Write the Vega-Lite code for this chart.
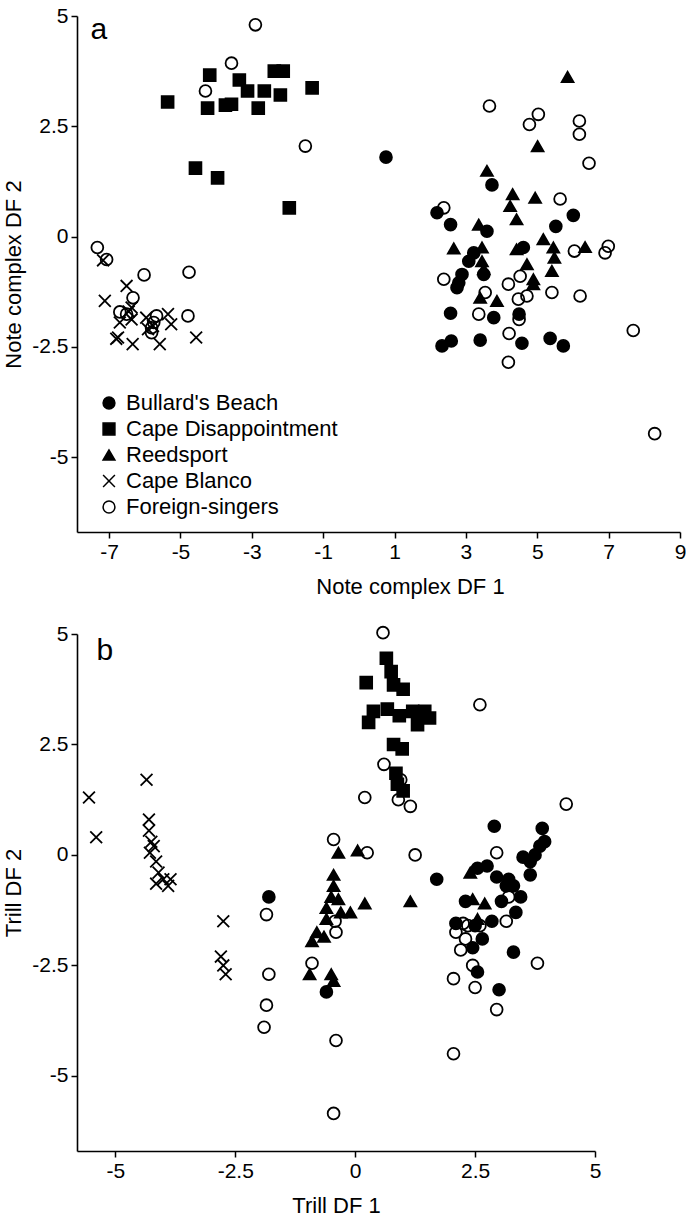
{
"$schema": "https://vega.github.io/schema/vega-lite/v6.json",
"padding": {"left": 2, "top": 5, "right": 0, "bottom": 0},
"spacing": 26,
"config": {
  "font": "Liberation Sans",
  "view": {"stroke": null},
  "axis": {"grid": false, "domainColor": "black", "domainWidth": 1.6, "tickColor": "black", "tickWidth": 1.5, "tickSize": 6, "labelFontSize": 21, "labelColor": "black", "labelFont": "Liberation Sans", "titleFontSize": 22, "titleFont": "Liberation Sans", "titleFontWeight": "normal", "titleColor": "black", "labelFlush": false, "labelPadding": 3, "labelOverlap": false}
},
"resolve": {"legend": {"shape": "independent", "fill": "independent"}},
"datasets": {
  "a": [
    {"x": 0.76, "y": 1.8, "g": "Bullard's Beach"},
    {"x": 3.73, "y": 1.17, "g": "Bullard's Beach"},
    {"x": 2.19, "y": 0.54, "g": "Bullard's Beach"},
    {"x": 2.57, "y": 0.27, "g": "Bullard's Beach"},
    {"x": 6.01, "y": 0.48, "g": "Bullard's Beach"},
    {"x": 5.52, "y": 0.23, "g": "Bullard's Beach"},
    {"x": 3.59, "y": 0.12, "g": "Bullard's Beach"},
    {"x": 3.22, "y": -0.37, "g": "Bullard's Beach"},
    {"x": 3.08, "y": -0.56, "g": "Bullard's Beach"},
    {"x": 2.89, "y": -0.86, "g": "Bullard's Beach"},
    {"x": 2.8, "y": -1.05, "g": "Bullard's Beach"},
    {"x": 3.5, "y": -0.86, "g": "Bullard's Beach"},
    {"x": 4.61, "y": -0.25, "g": "Bullard's Beach"},
    {"x": 2.75, "y": -1.16, "g": "Bullard's Beach"},
    {"x": 2.57, "y": -1.74, "g": "Bullard's Beach"},
    {"x": 3.78, "y": -1.84, "g": "Bullard's Beach"},
    {"x": 4.49, "y": -1.76, "g": "Bullard's Beach"},
    {"x": 2.33, "y": -2.48, "g": "Bullard's Beach"},
    {"x": 2.59, "y": -2.37, "g": "Bullard's Beach"},
    {"x": 3.4, "y": -2.35, "g": "Bullard's Beach"},
    {"x": 4.57, "y": -2.42, "g": "Bullard's Beach"},
    {"x": 5.36, "y": -2.31, "g": "Bullard's Beach"},
    {"x": 5.73, "y": -2.48, "g": "Bullard's Beach"},
    {"x": -5.36, "y": 3.05, "g": "Cape Disappointment"},
    {"x": -4.18, "y": 3.66, "g": "Cape Disappointment"},
    {"x": -4.24, "y": 2.91, "g": "Cape Disappointment"},
    {"x": -3.74, "y": 2.98, "g": "Cape Disappointment"},
    {"x": -3.57, "y": 3.0, "g": "Cape Disappointment"},
    {"x": -3.35, "y": 3.55, "g": "Cape Disappointment"},
    {"x": -3.12, "y": 3.3, "g": "Cape Disappointment"},
    {"x": -2.82, "y": 2.91, "g": "Cape Disappointment"},
    {"x": -2.65, "y": 3.3, "g": "Cape Disappointment"},
    {"x": -2.37, "y": 3.75, "g": "Cape Disappointment"},
    {"x": -2.12, "y": 3.75, "g": "Cape Disappointment"},
    {"x": -2.2, "y": 3.21, "g": "Cape Disappointment"},
    {"x": -1.31, "y": 3.37, "g": "Cape Disappointment"},
    {"x": -4.58, "y": 1.55, "g": "Cape Disappointment"},
    {"x": -3.96, "y": 1.33, "g": "Cape Disappointment"},
    {"x": -1.95, "y": 0.65, "g": "Cape Disappointment"},
    {"x": 5.85, "y": 3.62, "g": "Reedsport"},
    {"x": 5.01, "y": 2.05, "g": "Reedsport"},
    {"x": 3.59, "y": 1.49, "g": "Reedsport"},
    {"x": 4.31, "y": 0.96, "g": "Reedsport"},
    {"x": 4.94, "y": 0.88, "g": "Reedsport"},
    {"x": 4.24, "y": 0.69, "g": "Reedsport"},
    {"x": 4.42, "y": 0.39, "g": "Reedsport"},
    {"x": 3.36, "y": 0.27, "g": "Reedsport"},
    {"x": 2.66, "y": -0.27, "g": "Reedsport"},
    {"x": 3.45, "y": -0.25, "g": "Reedsport"},
    {"x": 3.45, "y": -0.56, "g": "Reedsport"},
    {"x": 3.5, "y": -0.74, "g": "Reedsport"},
    {"x": 4.42, "y": -0.29, "g": "Reedsport"},
    {"x": 4.71, "y": -0.63, "g": "Reedsport"},
    {"x": 5.17, "y": -0.06, "g": "Reedsport"},
    {"x": 5.45, "y": -0.25, "g": "Reedsport"},
    {"x": 5.48, "y": -0.48, "g": "Reedsport"},
    {"x": 5.41, "y": -0.78, "g": "Reedsport"},
    {"x": 6.34, "y": -0.24, "g": "Reedsport"},
    {"x": 4.89, "y": -0.97, "g": "Reedsport"},
    {"x": 3.4, "y": -1.39, "g": "Reedsport"},
    {"x": 3.87, "y": -1.46, "g": "Reedsport"},
    {"x": 4.89, "y": -1.08, "g": "Reedsport"},
    {"x": -7.17, "y": -0.54, "g": "Cape Blanco"},
    {"x": -6.51, "y": -1.12, "g": "Cape Blanco"},
    {"x": -7.12, "y": -1.46, "g": "Cape Blanco"},
    {"x": -6.37, "y": -1.61, "g": "Cape Blanco"},
    {"x": -6.7, "y": -1.95, "g": "Cape Blanco"},
    {"x": -6.37, "y": -1.88, "g": "Cape Blanco"},
    {"x": -6.75, "y": -2.29, "g": "Cape Blanco"},
    {"x": -6.8, "y": -2.32, "g": "Cape Blanco"},
    {"x": -6.34, "y": -2.44, "g": "Cape Blanco"},
    {"x": -5.91, "y": -2.1, "g": "Cape Blanco"},
    {"x": -5.77, "y": -2.03, "g": "Cape Blanco"},
    {"x": -5.58, "y": -2.44, "g": "Cape Blanco"},
    {"x": -5.35, "y": -1.76, "g": "Cape Blanco"},
    {"x": -5.26, "y": -1.99, "g": "Cape Blanco"},
    {"x": -4.56, "y": -2.29, "g": "Cape Blanco"},
    {"x": -5.96, "y": -1.84, "g": "Cape Blanco"},
    {"x": -6.45, "y": -1.7, "g": "Cape Blanco"},
    {"x": -2.9, "y": 4.8, "g": "Foreign-singers"},
    {"x": -3.57, "y": 3.93, "g": "Foreign-singers"},
    {"x": -4.3, "y": 3.3, "g": "Foreign-singers"},
    {"x": -1.5, "y": 2.05, "g": "Foreign-singers"},
    {"x": -7.33, "y": -0.25, "g": "Foreign-singers"},
    {"x": -7.07, "y": -0.52, "g": "Foreign-singers"},
    {"x": -6.02, "y": -0.87, "g": "Foreign-singers"},
    {"x": -4.76, "y": -0.81, "g": "Foreign-singers"},
    {"x": -6.33, "y": -1.39, "g": "Foreign-singers"},
    {"x": -6.7, "y": -1.71, "g": "Foreign-singers"},
    {"x": -6.51, "y": -1.76, "g": "Foreign-singers"},
    {"x": -5.67, "y": -1.8, "g": "Foreign-singers"},
    {"x": -5.75, "y": -1.95, "g": "Foreign-singers"},
    {"x": -5.81, "y": -2.18, "g": "Foreign-singers"},
    {"x": -5.81, "y": -2.07, "g": "Foreign-singers"},
    {"x": -4.79, "y": -1.8, "g": "Foreign-singers"},
    {"x": 3.66, "y": 2.96, "g": "Foreign-singers"},
    {"x": 5.03, "y": 2.77, "g": "Foreign-singers"},
    {"x": 4.78, "y": 2.54, "g": "Foreign-singers"},
    {"x": 6.18, "y": 2.62, "g": "Foreign-singers"},
    {"x": 6.18, "y": 2.32, "g": "Foreign-singers"},
    {"x": 6.45, "y": 1.66, "g": "Foreign-singers"},
    {"x": 5.64, "y": 0.85, "g": "Foreign-singers"},
    {"x": 2.38, "y": 0.65, "g": "Foreign-singers"},
    {"x": 6.04, "y": -0.33, "g": "Foreign-singers"},
    {"x": 6.9, "y": -0.37, "g": "Foreign-singers"},
    {"x": 6.99, "y": -0.22, "g": "Foreign-singers"},
    {"x": 2.38, "y": -0.97, "g": "Foreign-singers"},
    {"x": 4.19, "y": -1.08, "g": "Foreign-singers"},
    {"x": 4.52, "y": -0.9, "g": "Foreign-singers"},
    {"x": 3.54, "y": -1.27, "g": "Foreign-singers"},
    {"x": 4.47, "y": -1.42, "g": "Foreign-singers"},
    {"x": 4.71, "y": -1.35, "g": "Foreign-singers"},
    {"x": 5.41, "y": -1.27, "g": "Foreign-singers"},
    {"x": 6.2, "y": -1.35, "g": "Foreign-singers"},
    {"x": 3.36, "y": -1.76, "g": "Foreign-singers"},
    {"x": 4.49, "y": -1.88, "g": "Foreign-singers"},
    {"x": 7.69, "y": -2.13, "g": "Foreign-singers"},
    {"x": 4.21, "y": -2.2, "g": "Foreign-singers"},
    {"x": 4.19, "y": -2.85, "g": "Foreign-singers"},
    {"x": 8.29, "y": -4.47, "g": "Foreign-singers"}
  ],
  "b": [
    {"x": -1.8, "y": -0.95, "g": "Bullard's Beach"},
    {"x": -0.6, "y": -3.1, "g": "Bullard's Beach"},
    {"x": 1.7, "y": -0.55, "g": "Bullard's Beach"},
    {"x": 2.1, "y": -1.55, "g": "Bullard's Beach"},
    {"x": 2.5, "y": -1.6, "g": "Bullard's Beach"},
    {"x": 2.3, "y": -1.05, "g": "Bullard's Beach"},
    {"x": 2.55, "y": -2.65, "g": "Bullard's Beach"},
    {"x": 2.45, "y": -2.1, "g": "Bullard's Beach"},
    {"x": 2.65, "y": -1.9, "g": "Bullard's Beach"},
    {"x": 2.55, "y": -0.3, "g": "Bullard's Beach"},
    {"x": 2.75, "y": -0.25, "g": "Bullard's Beach"},
    {"x": 2.9, "y": 0.65, "g": "Bullard's Beach"},
    {"x": 2.95, "y": -0.5, "g": "Bullard's Beach"},
    {"x": 3.0, "y": -3.05, "g": "Bullard's Beach"},
    {"x": 2.85, "y": -1.5, "g": "Bullard's Beach"},
    {"x": 3.05, "y": -1.05, "g": "Bullard's Beach"},
    {"x": 3.15, "y": -0.7, "g": "Bullard's Beach"},
    {"x": 3.2, "y": -0.55, "g": "Bullard's Beach"},
    {"x": 3.3, "y": -0.7, "g": "Bullard's Beach"},
    {"x": 3.35, "y": -1.3, "g": "Bullard's Beach"},
    {"x": 3.3, "y": -2.2, "g": "Bullard's Beach"},
    {"x": 3.5, "y": -0.05, "g": "Bullard's Beach"},
    {"x": 3.65, "y": -0.15, "g": "Bullard's Beach"},
    {"x": 3.75, "y": 0.0, "g": "Bullard's Beach"},
    {"x": 3.85, "y": 0.2, "g": "Bullard's Beach"},
    {"x": 3.9, "y": 0.6, "g": "Bullard's Beach"},
    {"x": 3.95, "y": 0.3, "g": "Bullard's Beach"},
    {"x": 3.65, "y": -0.45, "g": "Bullard's Beach"},
    {"x": 3.45, "y": -0.95, "g": "Bullard's Beach"},
    {"x": 0.23, "y": 3.9, "g": "Cape Disappointment"},
    {"x": 0.65, "y": 4.45, "g": "Cape Disappointment"},
    {"x": 0.75, "y": 4.15, "g": "Cape Disappointment"},
    {"x": 0.8, "y": 3.85, "g": "Cape Disappointment"},
    {"x": 1.0, "y": 3.75, "g": "Cape Disappointment"},
    {"x": 0.38, "y": 3.25, "g": "Cape Disappointment"},
    {"x": 0.67, "y": 3.3, "g": "Cape Disappointment"},
    {"x": 0.92, "y": 3.15, "g": "Cape Disappointment"},
    {"x": 1.2, "y": 3.25, "g": "Cape Disappointment"},
    {"x": 1.45, "y": 3.25, "g": "Cape Disappointment"},
    {"x": 1.3, "y": 2.95, "g": "Cape Disappointment"},
    {"x": 1.55, "y": 3.1, "g": "Cape Disappointment"},
    {"x": 0.8, "y": 2.5, "g": "Cape Disappointment"},
    {"x": 0.98, "y": 2.4, "g": "Cape Disappointment"},
    {"x": 0.85, "y": 1.85, "g": "Cape Disappointment"},
    {"x": 0.88, "y": 1.6, "g": "Cape Disappointment"},
    {"x": 1.0, "y": 1.45, "g": "Cape Disappointment"},
    {"x": 0.28, "y": 3.0, "g": "Cape Disappointment"},
    {"x": -0.35, "y": 0.05, "g": "Reedsport"},
    {"x": -0.45, "y": -0.45, "g": "Reedsport"},
    {"x": -0.45, "y": -0.7, "g": "Reedsport"},
    {"x": -0.5, "y": -0.95, "g": "Reedsport"},
    {"x": -0.35, "y": -1.0, "g": "Reedsport"},
    {"x": -0.6, "y": -1.2, "g": "Reedsport"},
    {"x": -0.3, "y": -1.3, "g": "Reedsport"},
    {"x": -0.6, "y": -1.45, "g": "Reedsport"},
    {"x": -0.8, "y": -1.75, "g": "Reedsport"},
    {"x": -0.9, "y": -1.95, "g": "Reedsport"},
    {"x": -0.65, "y": -1.85, "g": "Reedsport"},
    {"x": -0.95, "y": -2.7, "g": "Reedsport"},
    {"x": -0.5, "y": -2.7, "g": "Reedsport"},
    {"x": -0.45, "y": -2.85, "g": "Reedsport"},
    {"x": -0.1, "y": -1.3, "g": "Reedsport"},
    {"x": 0.2, "y": -1.1, "g": "Reedsport"},
    {"x": 1.15, "y": -1.05, "g": "Reedsport"},
    {"x": 2.4, "y": -0.4, "g": "Reedsport"},
    {"x": 2.45, "y": -1.0, "g": "Reedsport"},
    {"x": 2.55, "y": -1.45, "g": "Reedsport"},
    {"x": 2.7, "y": -1.1, "g": "Reedsport"},
    {"x": 0.05, "y": 0.1, "g": "Reedsport"},
    {"x": -5.55, "y": 1.3, "g": "Cape Blanco"},
    {"x": -5.4, "y": 0.4, "g": "Cape Blanco"},
    {"x": -4.35, "y": 1.7, "g": "Cape Blanco"},
    {"x": -4.3, "y": 0.8, "g": "Cape Blanco"},
    {"x": -4.3, "y": 0.55, "g": "Cape Blanco"},
    {"x": -4.25, "y": 0.3, "g": "Cape Blanco"},
    {"x": -4.2, "y": 0.2, "g": "Cape Blanco"},
    {"x": -4.28, "y": 0.05, "g": "Cape Blanco"},
    {"x": -4.15, "y": -0.15, "g": "Cape Blanco"},
    {"x": -4.1, "y": -0.4, "g": "Cape Blanco"},
    {"x": -4.15, "y": -0.65, "g": "Cape Blanco"},
    {"x": -4.0, "y": -0.55, "g": "Cape Blanco"},
    {"x": -3.9, "y": -0.7, "g": "Cape Blanco"},
    {"x": -3.85, "y": -0.55, "g": "Cape Blanco"},
    {"x": -2.75, "y": -1.5, "g": "Cape Blanco"},
    {"x": -2.8, "y": -2.3, "g": "Cape Blanco"},
    {"x": -2.75, "y": -2.5, "g": "Cape Blanco"},
    {"x": -2.7, "y": -2.7, "g": "Cape Blanco"},
    {"x": 0.58, "y": 5.03, "g": "Foreign-singers"},
    {"x": 2.6, "y": 3.4, "g": "Foreign-singers"},
    {"x": 4.4, "y": 1.15, "g": "Foreign-singers"},
    {"x": 0.6, "y": 2.05, "g": "Foreign-singers"},
    {"x": 0.2, "y": 1.3, "g": "Foreign-singers"},
    {"x": 0.95, "y": 1.7, "g": "Foreign-singers"},
    {"x": 1.15, "y": 1.1, "g": "Foreign-singers"},
    {"x": 0.9, "y": 1.25, "g": "Foreign-singers"},
    {"x": 1.25, "y": 0.0, "g": "Foreign-singers"},
    {"x": -0.45, "y": 0.35, "g": "Foreign-singers"},
    {"x": 0.25, "y": 0.05, "g": "Foreign-singers"},
    {"x": -0.42, "y": -1.5, "g": "Foreign-singers"},
    {"x": -0.4, "y": -1.75, "g": "Foreign-singers"},
    {"x": -0.9, "y": -2.45, "g": "Foreign-singers"},
    {"x": -1.85, "y": -1.35, "g": "Foreign-singers"},
    {"x": -1.8, "y": -2.7, "g": "Foreign-singers"},
    {"x": -1.85, "y": -3.4, "g": "Foreign-singers"},
    {"x": -1.9, "y": -3.9, "g": "Foreign-singers"},
    {"x": -0.4, "y": -4.2, "g": "Foreign-singers"},
    {"x": -0.45, "y": -5.85, "g": "Foreign-singers"},
    {"x": 2.95, "y": 0.05, "g": "Foreign-singers"},
    {"x": 3.2, "y": -0.95, "g": "Foreign-singers"},
    {"x": 2.25, "y": -1.55, "g": "Foreign-singers"},
    {"x": 2.35, "y": -1.6, "g": "Foreign-singers"},
    {"x": 2.1, "y": -1.75, "g": "Foreign-singers"},
    {"x": 2.2, "y": -2.15, "g": "Foreign-singers"},
    {"x": 2.05, "y": -2.8, "g": "Foreign-singers"},
    {"x": 2.45, "y": -2.5, "g": "Foreign-singers"},
    {"x": 2.5, "y": -3.0, "g": "Foreign-singers"},
    {"x": 2.95, "y": -3.5, "g": "Foreign-singers"},
    {"x": 3.8, "y": -2.45, "g": "Foreign-singers"},
    {"x": 2.05, "y": -4.5, "g": "Foreign-singers"},
    {"x": 3.15, "y": -1.5, "g": "Foreign-singers"},
    {"x": 2.6, "y": -1.6, "g": "Foreign-singers"},
    {"x": 2.3, "y": -1.9, "g": "Foreign-singers"}
  ]
},
"vconcat": [
  {
    "width": 603, "height": 516,
    "layer": [
      {
        "data": {"name": "a"},
        "mark": {"type": "point", "stroke": "black", "strokeWidth": 1.8, "opacity": 1, "size": 140},
        "encoding": {
          "x": {"field": "x", "type": "quantitative", "scale": {"domain": [-7.9, 9], "nice": false, "zero": false},
                "axis": {"values": [-7, -5, -3, -1, 1, 3, 5, 7, 9], "title": "Note complex DF 1", "labelExpr": "toString(datum.value)", "titlePadding": 14, "titleX": 333}},
          "y": {"field": "y", "type": "quantitative", "scale": {"domain": [-6.7, 5], "nice": false, "zero": false},
                "axis": {"values": [-5, -2.5, 0, 2.5, 5], "title": "Note complex DF 2", "labelExpr": "toString(datum.value)", "titlePadding": 6}},
          "shape": {"field": "g", "type": "nominal",
                    "scale": {"domain": ["Bullard's Beach", "Cape Disappointment", "Reedsport", "Cape Blanco", "Foreign-singers"], "range": ["circle", "square", "triangle-up", "M-1,-1L1,1M-1,1L1,-1", "circle"]},
                    "legend": {"title": null, "orient": "none", "legendX": 21, "legendY": 376, "labelFontSize": 22, "labelFont": "Liberation Sans", "labelColor": "black", "labelLimit": 0, "symbolSize": 140, "symbolOpacity": 1, "rowPadding": 4, "labelOffset": 6,
                               "encode": {"symbols": {"update": {"stroke": {"value": "black"}, "strokeWidth": {"value": 1.8}, "opacity": {"value": 1}}}}}},
          "fill": {"field": "g", "type": "nominal",
                   "scale": {"domain": ["Bullard's Beach", "Cape Disappointment", "Reedsport", "Cape Blanco", "Foreign-singers"], "range": ["black", "black", "black", "transparent", "transparent"]},
                   "legend": {"title": null, "orient": "none", "legendX": 21, "legendY": 376, "labelFontSize": 22, "labelFont": "Liberation Sans", "labelColor": "black", "labelLimit": 0, "symbolSize": 140, "symbolOpacity": 1, "rowPadding": 4, "labelOffset": 6,
                              "encode": {"symbols": {"update": {"stroke": {"value": "black"}, "strokeWidth": {"value": 1.8}, "opacity": {"value": 1}}}}}}
        }
      },
      {
        "data": {"values": [{"label": "a"}]},
        "mark": {"type": "text", "fontSize": 30, "font": "Liberation Sans", "color": "black"},
        "encoding": {"x": {"datum": -7.29}, "y": {"datum": 4.68}, "text": {"field": "label"}}
      }
    ]
  },
  {
    "width": 518, "height": 517,
    "layer": [
      {
        "data": {"name": "b"},
        "mark": {"type": "point", "stroke": "black", "strokeWidth": 1.8, "opacity": 1, "size": 140},
        "encoding": {
          "x": {"field": "x", "type": "quantitative", "scale": {"domain": [-5.8, 5], "nice": false, "zero": false},
                "axis": {"values": [-5, -2.5, 0, 2.5, 5], "title": "Trill DF 1", "labelExpr": "toString(datum.value)", "titlePadding": 14}},
          "y": {"field": "y", "type": "quantitative", "scale": {"domain": [-6.7, 5], "nice": false, "zero": false},
                "axis": {"values": [-5, -2.5, 0, 2.5, 5], "title": "Trill DF 2", "labelExpr": "toString(datum.value)", "titlePadding": 6}},
          "shape": {"field": "g", "type": "nominal",
                    "scale": {"domain": ["Bullard's Beach", "Cape Disappointment", "Reedsport", "Cape Blanco", "Foreign-singers"], "range": ["circle", "square", "triangle-up", "M-1,-1L1,1M-1,1L1,-1", "circle"]},
                    "legend": null},
          "fill": {"field": "g", "type": "nominal",
                   "scale": {"domain": ["Bullard's Beach", "Cape Disappointment", "Reedsport", "Cape Blanco", "Foreign-singers"], "range": ["black", "black", "black", "transparent", "transparent"]},
                   "legend": null}
        }
      },
      {
        "data": {"values": [{"label": "b"}]},
        "mark": {"type": "text", "fontSize": 30, "font": "Liberation Sans", "color": "black"},
        "encoding": {"x": {"datum": -5.22}, "y": {"datum": 4.61}, "text": {"field": "label"}}
      }
    ]
  }
]
}
